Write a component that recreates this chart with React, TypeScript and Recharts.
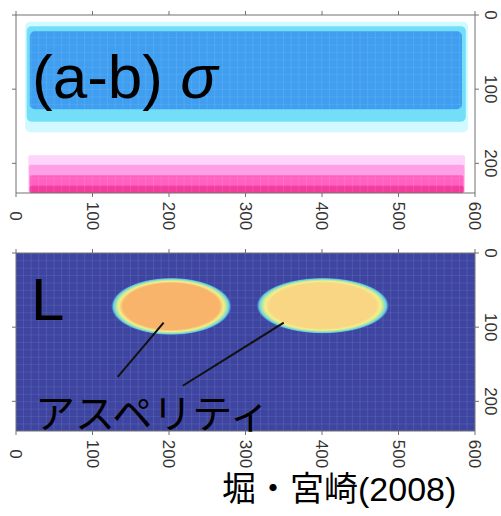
import React from 'react';
import { ComposedChart, XAxis, YAxis, ReferenceArea, ReferenceLine, Scatter } from 'recharts';

const xTicks = [0, 100, 200, 300, 400, 500, 600];
const yTicks = [0, 100, 200];

// (a-b)σ distribution, outer contours first
const sigmaBands = [
    { x1: 12, x2: 591, y1: 9, y2: 158, level: -1 },
    { x1: 14, x2: 588, y1: 15, y2: 144, level: -2 },
    { x1: 18, x2: 583, y1: 22, y2: 127, level: -3 },
    { x1: 16, x2: 587, y1: 189, y2: 240, level: 1 },
    { x1: 17, x2: 586, y1: 202, y2: 240, level: 2 },
    { x1: 18, x2: 585, y1: 216, y2: 240, level: 3 },
    { x1: 18, x2: 585, y1: 230, y2: 240, level: 4 },
];

// asperities in the L map
const asperityX = [203, 401];
const asperityY = [72, 71];
const asperityRx = [79, 87];
const asperityRy = [39, 38];
const asperityL = [0.35, 0.45];

// leader lines from the label to each asperity
const leaderFrom = [{ x: 133, y: 167 }, { x: 218, y: 179 }];
const leaderTo = [{ x: 193, y: 94 }, { x: 350, y: 94 }];

const sigmaColor: Record<number, string> = {
    '-3': '#3f9ef0',
    '-2': '#72def8',
    '-1': '#d2f9ff',
    '1': '#ffd4fa',
    '2': '#ffa0e6',
    '3': '#ff60c2',
    '4': '#f23c9c',
};

const lColor = (v: number) => (v < 0.4 ? '#f7b46a' : '#f8d683');

const W = 501;
const AXIS = '#707070';
const margin = { top: 11, right: 0, bottom: 7, left: 4 };

const bandCentres = sigmaBands.map((b) => ({ x: (b.x1 + b.x2) / 2, y: (b.y1 + b.y2) / 2 }));
const asperityCentres = asperityX.map((x, i) => ({ x, y: asperityY[i] }));

const bottomTick = (props: any) => (
    <text
        transform={`translate(${props.x},${props.y + 19}) rotate(90)`}
        textAnchor="middle"
        dy="0.35em"
        fontSize={17}
        fontFamily="Liberation Sans, Arial, sans-serif"
        fill="#333"
    >
        {props.payload.value}
    </text>
);

const rightTick = (props: any) => (
    <text
        transform={`translate(${props.x + 12},${props.y}) rotate(90)`}
        textAnchor="middle"
        dy="0.35em"
        fontSize={17}
        fontFamily="Liberation Sans, Arial, sans-serif"
        fill="#333"
    >
        {props.payload.value}
    </text>
);

const noTick = () => <g />;

const bandShape = (fill: string, rx: number, mesh: boolean) => (p: any) => (
    <g>
        <rect x={p.x} y={p.y} width={p.width} height={p.height} rx={rx} fill={fill} />
        {mesh && <rect x={p.x} y={p.y} width={p.width} height={p.height} rx={rx} fill="url(#mesh)" />}
    </g>
);

const ellipseShape = (id: string) => (p: any) => (
    <ellipse
        cx={p.x + p.width / 2}
        cy={p.y + p.height / 2}
        rx={p.width / 2}
        ry={p.height / 2}
        fill={`url(#${id})`}
    />
);

function Axes() {
    return [
        <XAxis
            key="b"
            xAxisId="b"
            dataKey="x"
            type="number"
            domain={[0, 600]}
            allowDataOverflow
            ticks={xTicks}
            height={40}
            tickSize={4}
            tickMargin={0}
            stroke={AXIS}
            tick={bottomTick}
        />,
        <XAxis
            key="t"
            xAxisId="t"
            dataKey="x"
            orientation="top"
            type="number"
            domain={[0, 600]}
            allowDataOverflow
            ticks={xTicks}
            height={4}
            tickSize={4}
            stroke={AXIS}
            tick={noTick}
        />,
        <YAxis
            key="l"
            yAxisId="l"
            dataKey="y"
            orientation="left"
            type="number"
            domain={[0, 240]}
            allowDataOverflow
            reversed
            ticks={yTicks}
            width={12}
            tickSize={4}
            stroke={AXIS}
            tick={noTick}
        />,
        <YAxis
            key="r"
            yAxisId="r"
            dataKey="y"
            orientation="right"
            type="number"
            domain={[0, 240]}
            allowDataOverflow
            reversed
            ticks={yTicks}
            width={26}
            tickSize={4}
            tickMargin={0}
            stroke={AXIS}
            tick={rightTick}
        />,
    ];
}

function SigmaPanel() {
    return (
        <ComposedChart width={W} height={240} margin={margin}>
            {Axes()}
            {sigmaBands.map((b, i) => (
                <ReferenceArea
                    key={i}
                    xAxisId="b"
                    yAxisId="r"
                    x1={b.x1}
                    x2={b.x2}
                    y1={b.y1}
                    y2={b.y2}
                    ifOverflow="hidden"
                    shape={bandShape(sigmaColor[b.level], b.y2 === 240 ? 2 : 5, b.level === -3 || b.level >= 3)}
                />
            ))}
            <Scatter data={bandCentres} xAxisId="b" yAxisId="r" dataKey="y" shape={noTick} isAnimationActive={false} />
            <Scatter data={bandCentres} xAxisId="t" yAxisId="l" dataKey="y" shape={noTick} isAnimationActive={false} />
        </ComposedChart>
    );
}

function LPanel() {
    return (
        <ComposedChart width={W} height={240} margin={margin}>
            {Axes()}
            <ReferenceArea
                xAxisId="b"
                yAxisId="r"
                x1={0}
                x2={600}
                y1={0}
                y2={240}
                shape={bandShape('#3d45a1', 0, true)}
            />
            {asperityX.map((x, i) => (
                <ReferenceArea
                    key={i}
                    xAxisId="b"
                    yAxisId="r"
                    x1={x - asperityRx[i]}
                    x2={x + asperityRx[i]}
                    y1={asperityY[i] - asperityRy[i]}
                    y2={asperityY[i] + asperityRy[i]}
                    shape={ellipseShape(`asp${i}`)}
                />
            ))}
            {leaderFrom.map((f, i) => (
                <ReferenceLine
                    key={i}
                    xAxisId="b"
                    yAxisId="r"
                    segment={[f, leaderTo[i]]}
                    stroke="#111"
                    strokeWidth={2}
                />
            ))}
            <Scatter data={asperityCentres} xAxisId="b" yAxisId="r" dataKey="y" shape={noTick} isAnimationActive={false} />
            <Scatter data={asperityCentres} xAxisId="t" yAxisId="l" dataKey="y" shape={noTick} isAnimationActive={false} />
        </ComposedChart>
    );
}

export default function App() {
    return (
        <div style={{ position: 'absolute', left: 0, top: 0, width: W, height: 516, background: '#fff' }}>
            <svg width={0} height={0} style={{ position: 'absolute' }}>
                <defs>
                    <pattern id="mesh" patternUnits="userSpaceOnUse" width={7.65} height={7.42}>
                        <line x1={0} y1={0} x2={0} y2={7.42} stroke="#fff" strokeOpacity={0.18} strokeWidth={1} />
                        <line x1={0} y1={0} x2={7.65} y2={0} stroke="#fff" strokeOpacity={0.13} strokeWidth={1} />
                    </pattern>
                    {asperityL.map((v, i) => (
                        <radialGradient key={i} id={`asp${i}`} cx="50%" cy="50%" r="50%">
                            <stop offset="0" stopColor={lColor(v)} />
                            <stop offset="0.8" stopColor={lColor(v)} />
                            <stop offset="0.87" stopColor="#f4ee8c" />
                            <stop offset="0.92" stopColor="#a4e6a6" />
                            <stop offset="0.96" stopColor="#5ec6ee" />
                            <stop offset="1" stopColor="#4a62bc" stopOpacity={0} />
                        </radialGradient>
                    ))}
                </defs>
            </svg>
            <div style={{ position: 'absolute', left: 0, top: 0 }}>
                <SigmaPanel />
            </div>
            <div style={{ position: 'absolute', left: 0, top: 238 }}>
                <LPanel />
            </div>
            <svg
                width={W}
                height={516}
                style={{ position: 'absolute', left: 0, top: 0, pointerEvents: 'none' }}
                fontFamily="Liberation Sans, Arial, sans-serif"
            >
                <text x={32} y={98} fontSize={62} fill="#000">
                    (a-b) <tspan fontStyle="italic">σ</tspan>
                </text>
                <text x={31} y={320} fontSize={60} fill="#000">
                    L
                </text>
                <text x={35} y={428} fontSize={40} fill="#000" fontFamily="Noto Sans CJK JP">
                    アスペリティ
                </text>
                <text x={222} y={501} fontSize={34} fill="#000" fontFamily="Liberation Sans, Noto Sans CJK JP">
                    堀・宮崎(2008)
                </text>
            </svg>
        </div>
    );
}
